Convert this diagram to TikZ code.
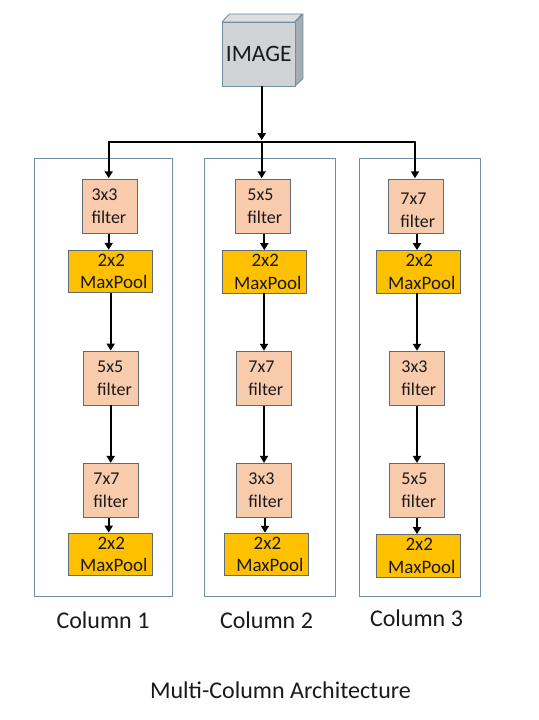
\documentclass[tikz,border=0pt]{standalone}
\usepackage{fontspec}
\setmainfont{Carlito}
\usetikzlibrary{arrows.meta}
\definecolor{edgeblue}{HTML}{6F8FA3}
\definecolor{boxedge}{HTML}{5F6B75}
\definecolor{filterfill}{HTML}{F8CBAD}
\definecolor{poolfill}{HTML}{FFC000}
\definecolor{imgfront}{HTML}{D0D3D6}
\definecolor{imgtop}{HTML}{DCDEE0}
\definecolor{imgside}{HTML}{A6ADB3}
\definecolor{inktext}{HTML}{1A1A1A}
\newcommand{\filt}[3]{\kern#1pt #2\\\kern#1pt #3}
\newcommand{\mpool}{\kern2pt 2x2\\\kern7pt MaxPool}
\tikzset{
  x=1pt,y=-1pt,
  colbox/.style={draw=edgeblue,line width=0.8pt,fill=white,inner sep=0pt},
  filterbox/.style={draw=boxedge,line width=0.8pt,fill=filterfill,minimum width=55pt,minimum height=54pt,inner sep=0pt,align=left,font=\fontsize{18}{23}\selectfont,text=inktext},
  poolbox/.style={draw=boxedge,line width=0.8pt,fill=poolfill,minimum width=84pt,minimum height=42.5pt,inner sep=0pt,align=center,font=\fontsize{19}{22.5}\selectfont,text=inktext},
  lbl/.style={font=\fontsize{24}{28}\selectfont,text=inktext,inner sep=0pt},
  conn/.style={line width=2pt,black,-{Triangle[length=7pt,width=8pt]}},
  plainconn/.style={line width=2pt,black},
  imgface/.style={draw=edgeblue,line width=0.8pt,line join=round}
}
\begin{document}
\begin{tikzpicture}
\useasboundingbox (0,0) rectangle (538,720);
\fill[white] (0,0) rectangle (538,720);
% column frames
\node[colbox,minimum width=138.4pt,minimum height=437.5pt] (c1) at (103.5,377.25) {};
\node[colbox,minimum width=131.2pt,minimum height=437.5pt] (c2) at (270.1,377.25) {};
\node[colbox,minimum width=121.4pt,minimum height=437.5pt] (c3) at (420,377.25) {};
% image cube
\node[imgface,fill=imgfront,minimum width=72.7pt,minimum height=63.7pt,inner sep=0pt,font=\fontsize{23.5}{28}\selectfont,text=inktext] (img) at (258.7,54.2) {IMAGE};
\draw[imgface,fill=imgtop] (img.north west) -- ++(7.5,-8) -- ++(72.7,0) -- ++(-7.5,8) -- cycle;
\draw[imgface,fill=imgside] (img.north east) -- ++(7.5,-8) -- ++(0,64.7) -- ++(-7.5,7) -- cycle;
% column 1
\node[filterbox] (a1) at (109.9,206.15) {\filt{-2}{3x3}{filter}};
\node[poolbox] (a2) at (110.3,271.5) {\mpool};
\node[filterbox] (a3) at (110.5,378) {\filt{8}{5x5}{filter}};
\node[filterbox] (a4) at (110.8,490.3) {\filt{0}{7x7}{filter}};
\node[poolbox] (a5) at (110.3,554.3) {\mpool};
% column 2
\node[filterbox] (b1) at (263,206.15) {\filt{3.6}{5x5}{filter}};
\node[poolbox] (b2) at (264.3,271.8) {\mpool};
\node[filterbox] (b3) at (264,378.2) {\filt{3.6}{7x7}{filter}};
\node[filterbox] (b4) at (264,490.3) {\filt{3.6}{3x3}{filter}};
\node[poolbox] (b5) at (266.4,554.4) {\mpool};
% column 3
\node[filterbox] (d1) at (416,206.15) {\rule{0pt}{20pt}\filt{3.6}{7x7}{filter}};
\node[poolbox] (d2) at (418.3,271.8) {\mpool};
\node[filterbox] (d3) at (417,378.2) {\filt{3.6}{3x3}{filter}};
\node[filterbox] (d4) at (417,490.3) {\filt{3.6}{5x5}{filter}};
\node[poolbox] (d5) at (418.3,555.8) {\mpool};
% captions
\node[lbl] (t1) at (103,620) {Column 1};
\node[lbl] (t2) at (266.5,620.7) {Column 2};
\node[lbl] (t3) at (416.5,618) {Column 3};
\node[lbl] (t4) at (280.5,690) {Multi-Column Architecture};
% bus
\coordinate (bus) at ([xshift=3pt]img.south |- 0,141.7);
\coordinate (busl) at ([xshift=-1.2pt]a1.north |- bus);
\coordinate (busr) at ([xshift=-1pt]d1.north |- bus);
\draw[conn] ([xshift=3pt]img.south) -- ([yshift=1.5pt]bus);
\draw[plainconn,line cap=round,line join=round] (busl) -- (busr);
\draw[conn] (busl) -- ([xshift=-1.2pt,yshift=.5pt]a1.north);
\draw[conn] (bus) -- ([yshift=.5pt]bus |- b1.north);
\draw[conn] (busr) -- ([xshift=-1pt,yshift=.5pt]d1.north);
% column 1 arrows
\draw[conn] ([xshift=-1.2pt]a1.south) -- ([xshift=-1.6pt]a2.north);
\draw[conn] ([xshift=.4pt]a2.south) -- ([xshift=.2pt]a3.north);
\draw[conn] ([xshift=.2pt]a3.south) -- ([xshift=-.1pt]a4.north);
\draw[conn] ([xshift=-2.1pt]a4.south) -- ([xshift=-1.6pt]a5.north);
% column 2 arrows
\draw[conn] ([xshift=1.3pt]b1.south) -- (b2.north);
\draw[conn] ([xshift=-.3pt]b2.south) -- (b3.north);
\draw[conn] (b3.south) -- (b4.north);
\draw[conn] ([xshift=1pt]b4.south) -- ([xshift=-1.4pt]b5.north);
% column 3 arrows
\draw[conn] ([xshift=1pt]d1.south) -- ([xshift=-1.3pt]d2.north);
\draw[conn] ([xshift=-1.3pt]d2.south) -- (d3.north);
\draw[conn] (d3.south) -- (d4.north);
\draw[conn] (d4.south) -- ([xshift=-1.3pt]d5.north);
\end{tikzpicture}
\end{document}
